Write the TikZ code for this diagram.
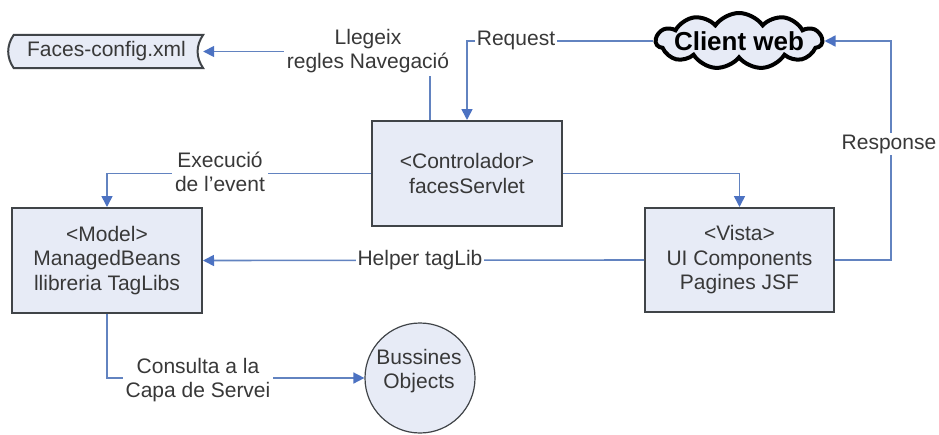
\documentclass[tikz,border=0pt]{standalone}
\usepackage{fontspec}
\setmainfont{Liberation Sans}
\usetikzlibrary{arrows.meta,shapes.symbols,calc}
\definecolor{boxfill}{HTML}{E7EBF6}
\definecolor{boxline}{HTML}{404448}
\definecolor{wire}{HTML}{6283C0}
\definecolor{tip}{HTML}{4C72C2}
\definecolor{ink}{HTML}{383838}
\tikzset{
  every node/.style={font=\fontsize{21}{24.5}\selectfont, text=ink, align=center},
  block/.style={rectangle, draw=boxline, line width=2pt, fill=boxfill, inner sep=0pt},
  conn/.style={draw=wire, line width=1.6pt, -{Triangle[width=11pt,length=11pt,color=tip]}},
  lbl/.style={fill=white, inner sep=3pt},
}
\begin{document}
\begin{tikzpicture}[x=1pt,y=-1pt]
\useasboundingbox[fill=white] (0,0) rectangle (939,434);

% main blocks
\node[block, minimum width=190pt, minimum height=105pt] (ctrl) at (467,173.5) {<Controlador>\\facesServlet};
\node[block, minimum width=189pt, minimum height=104pt] (vista) at (739.5,260) {<Vista>\\UI Components\\Pagines JSF};
\node[block, minimum width=190pt, minimum height=105pt] (model) at (107,260.5) {<Model>\\ManagedBeans\\llibreria TagLibs};

% stored-data shape for the config file
\node[minimum width=193pt, minimum height=33pt, inner sep=0pt] (faces) at (106.5,51.5) {Faces-config.xml};
\fill[boxfill] ($(faces.north west)+(4,0)$) to[bend right=35] ($(faces.south west)+(4,0)$)
  -- (faces.south east) to[bend left=35] (faces.north east) -- cycle;
\draw[boxline, line width=2pt] ($(faces.north west)+(4,0)$) to[bend right=35] ($(faces.south west)+(4,0)$)
  -- (faces.south east) to[bend left=35] (faces.north east) -- cycle;
\node[inner sep=0pt] (facestext) at (faces.center) {Faces-config.xml};

% web client cloud
\node[cloud, cloud puffs=11, cloud puff arc=110, aspect=3, draw=black, line width=4pt,
      fill=boxfill, minimum width=166pt, minimum height=56pt, inner sep=0pt] (cloud) at (739,41) {};
\node[font=\bfseries\fontsize{26}{28}\selectfont, text=black, inner sep=0pt] (cloudtext) at (cloud.center) {Client web};

% business objects
\node[circle, draw=boxline, line width=1.2pt, fill=boxfill, minimum size=110pt, inner sep=0pt] (bo) at (420,378) {};
\node[inner sep=0pt] (botext) at (419,371) {Bussines\\Objects};

% connectors
\coordinate (readstart) at ($(ctrl.north)+(-37,0)$);
\draw[conn] (readstart) |- (faces.east);
\node[lbl] (readlbl) at (368,51) {Llegeix\\regles Navegació};

\draw[conn] (cloud.west) -| (ctrl.north);
\node[lbl, inner sep=2pt] (reqlbl) at (516,40) {Request};

\draw[conn] (ctrl.east) -| (vista.north);

\draw[conn] (ctrl.west) -| (model.north);
\node[lbl] (execlbl) at (220,172) {Execució\\de l’event};

\draw[conn] (vista.west) -- (model.east);
\node[lbl, inner sep=2pt] (helperlbl) at (420,260) {Helper tagLib};

\coordinate (respcorner) at ($(vista.east)+(56,0)$);
\draw[conn] (vista.east) -- (respcorner) |- (cloud.east);
\node[lbl, inner sep=2pt] (resplbl) at (889,144) {Response};

\draw[conn] (model.south) |- (bo.west);
\node[lbl] (conslbl) at (198,380) {Consulta a la\\Capa de Servei};
\end{tikzpicture}
\end{document}
